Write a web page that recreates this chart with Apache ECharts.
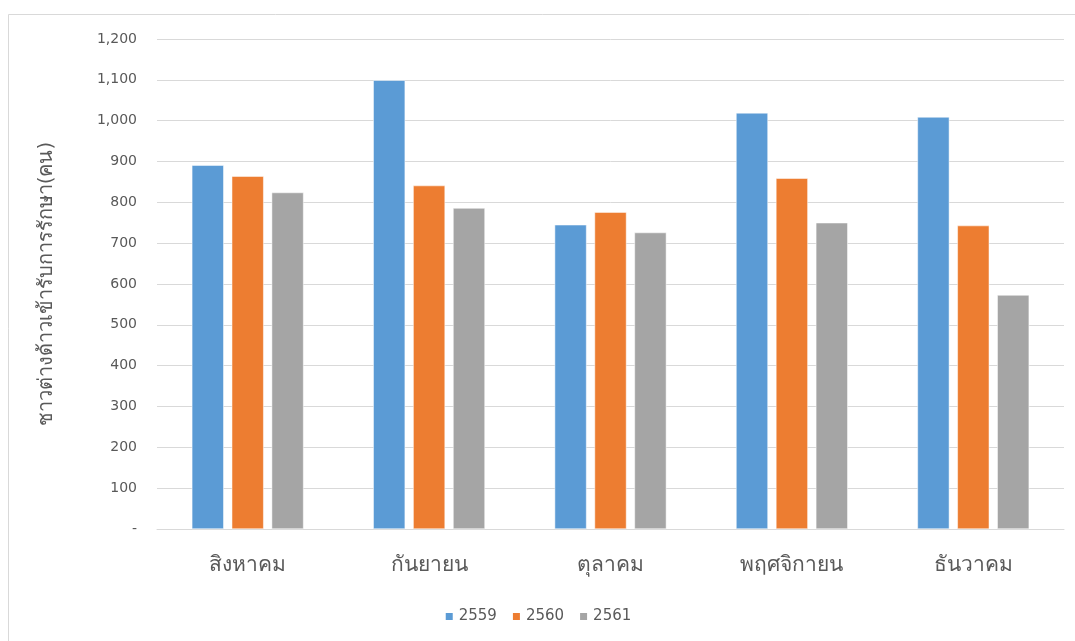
<!DOCTYPE html>
<html><head><meta charset="utf-8">
<script src="https://cdn.jsdelivr.net/npm/echarts@6/dist/echarts.min.js"></script>
<style>html,body{margin:0;padding:0;background:#fff}#c{width:1075px;height:641px}</style>
</head><body><div id="c"></div>
<script>
const categories = ['สิงหาคม','กันยายน','ตุลาคม','พฤศจิกายน','ธันวาคม'];
const seriesNames = ['2559','2560','2561'];
const values2559 = [891, 1099, 745, 1019, 1009];
const values2560 = [864, 841, 776, 859, 743];
const values2561 = [824, 786, 726, 750, 573];
const colors = ['#5b9bd5','#ed7d31','#a5a5a5'];
const yTitle = 'ชาวต่างด้าวเข้ารับการรักษา(คน)';
const font = 'Tahoma, "DejaVu Sans", "Noto Sans", sans-serif';

const chart = echarts.init(document.getElementById('c'), null, {renderer:'canvas'});
const data = [values2559, values2560, values2561];
chart.setOption({
  animation:false,
  backgroundColor:'#fff',
  textStyle:{fontFamily:font},
  graphic:[{type:'rect', shape:{x:8.5,y:14.5,width:1080,height:640}, style:{fill:'none',stroke:'#d9d9d9',lineWidth:1}, silent:true, z:-1}],
  legend:{
    data:seriesNames, bottom:12, left:'center', itemWidth:9, itemHeight:9, itemGap:14,
    icon:'rect', textStyle:{color:'#595959', fontSize:15, fontFamily:font}
  },
  grid:{left:157, right:11, top:39, bottom:112, containLabel:false},
  xAxis:{
    type:'category', data:categories,
    axisLine:{lineStyle:{color:'#d9d9d9'}}, axisTick:{show:false},
    axisLabel:{color:'#595959', fontSize:21, margin:26, fontFamily:font}
  },
  yAxis:{
    type:'value', min:0, max:1200, interval:100,
    name:yTitle, nameLocation:'middle', nameGap:100, nameRotate:90,
    nameTextStyle:{color:'#595959', fontSize:20, fontFamily:font},
    axisLine:{show:false}, axisTick:{show:false},
    splitLine:{lineStyle:{color:'#d9d9d9', width:1}},
    axisLabel:{color:'#595959', fontSize:14, margin:20, fontFamily:font,
      formatter:v => v === 0 ? '-' : v.toLocaleString('en-US')}
  },
  series: seriesNames.map((n,i)=>({
    name:n, type:'bar', data:data[i], barWidth:'17.6%', barGap:'25%',
    itemStyle:{color:colors[i], borderColor:'#fff', borderWidth:0.5}
  }))
});
</script></body></html>
